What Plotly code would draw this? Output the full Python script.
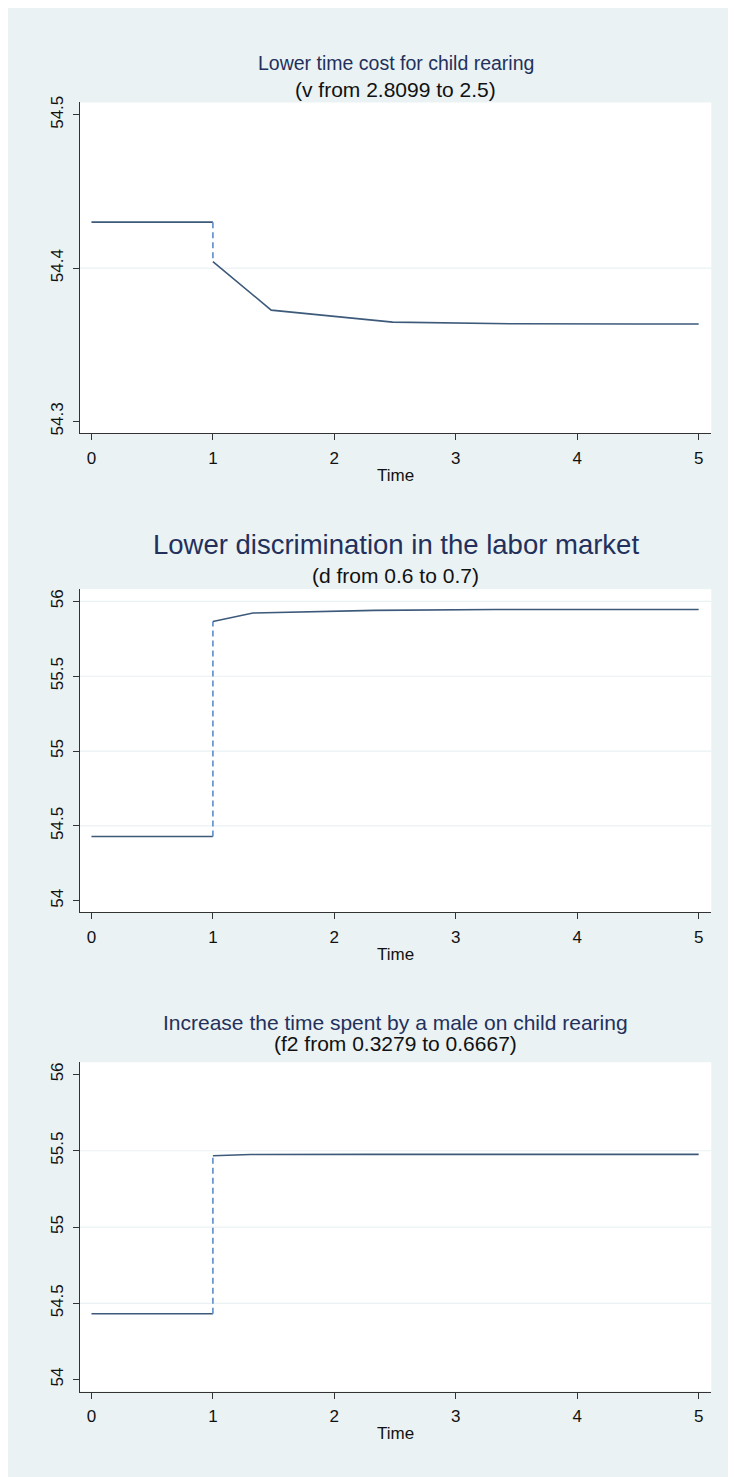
import plotly.graph_objects as go

# page body adds an 8px margin; figure is sized/offset to compensate
OFF = 8
W, H = 736 - OFF, 1477 - OFF

# ---- data ----
titles = ["Lower time cost for child rearing",
          "Lower discrimination in the labor market",
          "Increase the time spent by a male on child rearing"]
subtitles = ["(v from 2.8099 to 2.5)",
             "(d from 0.6 to 0.7)",
             "(f2 from 0.3279 to 0.6667)"]

pre_time = [0, 1]
pre_values = [54.430, 54.430, 54.432]

post_time_1 = [1, 1.48, 2.48, 3.48, 4.48, 5]
post_vals_1 = [54.4043, 54.3726, 54.3648, 54.3637, 54.3636, 54.3636]

post_time_2 = [1, 1.33, 2.33, 3.33, 4.33, 5]
post_vals_2 = [55.865, 55.922, 55.940, 55.946, 55.946, 55.946]

post_time_3 = [1, 1.31, 2.30, 3.30, 4.30, 5]
post_vals_3 = [55.467, 55.475, 55.476, 55.476, 55.476, 55.476]

x_ticks = [0, 1, 2, 3, 4, 5]
y_ticks_1 = [54.3, 54.4, 54.5]
y_ticks_2 = [54, 54.5, 55, 55.5, 56]
y_ticks_3 = [54, 54.5, 55, 55.5, 56]
y_tick_text_1 = ["54.3", "54.4", "54.5"]
y_tick_text_2 = ["54", "54.5", "55", "55.5", "56"]
y_tick_text_3 = ["54", "54.5", "55", "55.5", "56"]
grid_1 = [54.4]
grid_2 = [54.5, 55, 55.5, 56]
grid_3 = [54.5, 55, 55.5]

# ---- styling / layout ----
BG = "#eaf2f3"
LINE = "#3d5a7a"
DASH = "#5b8bc9"
TITLE_C = "#23305c"
AX = "#333333"
FONT = "Liberation Sans, Arial, sans-serif"

# panel pixel geometry in page pixels (top, bottom)
panels_px = [(96, 429), (585.7, 911), (1061.7, 1393)]
x_left, x_right = 79.8, 711.3
y_ranges = [[54.29222, 54.50804], [53.9223, 56.0816], [53.922, 56.080]]
x_range = [-0.096, 5.104]
title_px = [(56, 82.7), (541, 572), (1021.7, 1043.3)]
title_sizes = [19.5, 27.5, 21]
subtitle_size = 21

posts = [(post_time_1, post_vals_1), (post_time_2, post_vals_2), (post_time_3, post_vals_3)]
yticks = [(y_ticks_1, y_tick_text_1), (y_ticks_2, y_tick_text_2), (y_ticks_3, y_tick_text_3)]
grids = [grid_1, grid_2, grid_3]


def px_x(p):
    return (p - OFF) / W


def px_y(p):
    return 1 - (p - OFF) / H


fig = go.Figure()
layout = dict(
    width=W, height=H,
    margin=dict(l=0, r=0, t=0, b=0),
    paper_bgcolor=BG,
    plot_bgcolor="white",
    showlegend=False,
    font=dict(family=FONT, color="#111111", size=17),
)
shapes = []
annotations = []

cx = px_x((x_left + x_right) / 2)

for i in range(3):
    n = "" if i == 0 else str(i + 1)
    xa, ya = "x" + n, "y" + n
    top, bot = panels_px[i]
    pre = pre_values[i]
    pt, pv = posts[i]

    # pre-change level
    fig.add_trace(go.Scatter(x=pre_time, y=[pre, pre], mode="lines",
                             line=dict(color=LINE, width=1.6), xaxis=xa, yaxis=ya,
                             hoverinfo="skip"))
    # jump at t=1
    fig.add_trace(go.Scatter(x=[pt[0], pt[0]], y=[pre, pv[0]], mode="lines",
                             line=dict(color=DASH, width=1.6, dash="6px,4px"),
                             xaxis=xa, yaxis=ya, hoverinfo="skip"))
    # post-change path
    fig.add_trace(go.Scatter(x=pt, y=pv, mode="lines",
                             line=dict(color=LINE, width=1.6), xaxis=xa, yaxis=ya,
                             hoverinfo="skip"))

    layout["xaxis" + n] = dict(
        domain=[px_x(x_left), px_x(x_right)], range=x_range, anchor=ya,
        tickmode="array", tickvals=x_ticks, ticktext=[str(v) for v in x_ticks],
        ticks="outside", ticklen=6, tickcolor=AX, tickwidth=1,
        showline=True, linecolor=AX, linewidth=1, showgrid=False, zeroline=False,
        tickfont=dict(size=17, color="#111111"), ticklabelstandoff=3,
        fixedrange=True,
    )
    tv, tt = yticks[i]
    layout["yaxis" + n] = dict(
        domain=[px_y(bot), px_y(top)], range=y_ranges[i], anchor=xa,
        tickmode="array", tickvals=tv, ticktext=tt, tickangle=-90,
        ticks="outside", ticklen=6, tickcolor=AX, tickwidth=1,
        showline=True, linecolor=AX, linewidth=1, showgrid=False, zeroline=False,
        tickfont=dict(size=17, color="#111111"), ticklabelstandoff=3,
        fixedrange=True,
    )
    for g in grids[i]:
        shapes.append(dict(type="line", xref=xa + " domain", yref=ya,
                           x0=0, x1=1, y0=g, y1=g,
                           line=dict(color=BG, width=1.2), layer="below"))

    t_y, s_y = title_px[i]
    annotations.append(dict(text=titles[i], xref="paper", yref="paper",
                            x=cx, y=px_y(t_y), xanchor="center", yanchor="middle",
                            showarrow=False,
                            font=dict(size=title_sizes[i], color=TITLE_C, family=FONT)))
    annotations.append(dict(text=subtitles[i], xref="paper", yref="paper",
                            x=cx, y=px_y(s_y), xanchor="center", yanchor="middle",
                            showarrow=False,
                            font=dict(size=subtitle_size, color="#111111", family=FONT)))
    annotations.append(dict(text="Time", xref="paper", yref="paper",
                            x=cx, y=px_y(bot + 42), xanchor="center", yanchor="middle",
                            showarrow=False,
                            font=dict(size=17, color="#111111", family=FONT)))

layout["shapes"] = shapes
layout["annotations"] = annotations
fig.update_layout(**layout)
fig.write_html("out.html")
